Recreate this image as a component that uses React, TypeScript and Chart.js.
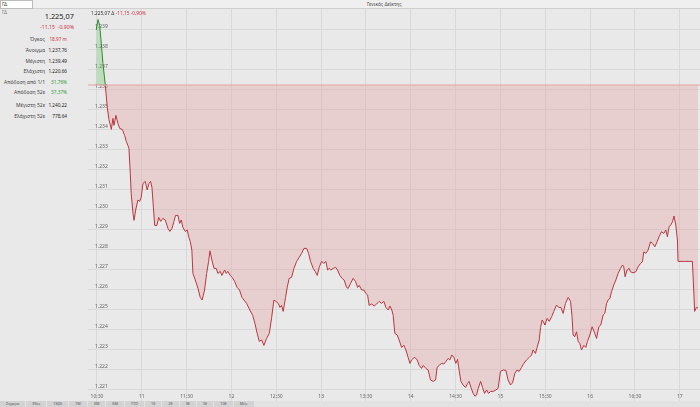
import React, { useEffect, useRef } from "react";
import { Chart, registerables } from "chart.js";

Chart.register(...registerables);

// Time in minutes since midnight, value of the index
const times: number[] = [
  629.5, 630.7, 631.8, 632.9, 634.0, 635.6, 636.9, 638.0, 639.6, 640.7, 641.4, 642.7, 644.0, 645.2, 646.9, 648.5,
  649.6, 650.7, 651.4, 652.3, 652.9, 654.1, 654.8, 655.9, 657.4, 658.6, 659.6, 660.8, 662.3, 663.6, 664.8, 665.9,
  666.8, 667.9, 668.6, 670.1, 671.3, 672.6, 674.1, 675.7, 677.5, 678.8, 680.2, 681.5, 682.6, 684.2, 685.3, 686.4,
  687.5, 689.1, 690.4, 691.5, 692.4, 693.5, 694.2, 695.8, 697.6, 699.1, 700.4, 702.0, 703.4, 704.7, 705.6, 706.9,
  708.3, 709.8, 710.9, 712.5, 713.6, 715.4, 716.5, 717.6, 719.2, 720.5, 722.1, 723.8, 725.4, 727.0, 730.1, 732.3,
  734.2, 735.7, 737.2, 738.6, 740.2, 741.7, 743.5, 745.3, 746.9, 748.4, 749.7, 751.3, 752.4, 753.5, 754.6, 756.2,
  757.3, 758.6, 760.2, 761.8, 763.6, 765.3, 766.9, 768.5, 770.3, 771.6, 772.9, 774.7, 776.0, 777.4, 778.7, 780.3,
  781.8, 783.2, 784.3, 785.4, 786.5, 788.1, 789.7, 791.0, 792.5, 794.1, 795.4, 797.0, 798.1, 799.7, 801.4, 803.0,
  804.4, 805.5, 807.1, 808.6, 809.9, 811.1, 812.1, 813.8, 815.5, 817.1, 818.8, 820.4, 822.0, 823.3, 824.9, 826.0,
  827.3, 828.2, 829.3, 830.9, 832.2, 833.8, 835.4, 836.7, 838.2, 839.4, 840.5, 841.6, 842.7, 844.3, 845.6, 847.2,
  848.3, 850.1, 851.6, 853.2, 855.0, 856.6, 857.6, 859.0, 860.6, 862.1, 863.5, 865.0, 866.1, 867.5, 868.8, 870.1,
  871.3, 872.3, 873.5, 875.0, 876.6, 878.0, 879.0, 880.2, 881.7, 882.9, 884.0, 885.1, 886.7, 888.0, 889.3, 890.7,
  892.0, 893.4, 895.1, 896.9, 898.4, 900.0, 901.8, 903.6, 905.1, 906.7, 908.1, 909.6, 911.1, 912.5, 914.1, 915.6,
  917.4, 919.2, 920.8, 921.8, 923.4, 924.5, 925.9, 926.8, 927.9, 929.2, 929.7, 931.2, 932.6, 934.2, 935.7, 937.5,
  939.0, 940.4, 941.9, 943.5, 945.3, 946.9, 947.9, 948.6, 949.7, 950.9, 952.0, 953.1, 954.2, 955.8, 957.1, 958.2,
  959.8, 961.3, 962.7, 964.3, 965.8, 967.1, 968.7, 969.8, 971.0, 972.0, 973.2, 974.3, 975.8, 977.2, 978.7, 980.3,
  981.7, 982.5, 983.4, 984.7, 986.1, 987.0, 988.7, 990.5, 992.1, 993.7, 995.0, 995.9, 997.2, 998.8, 1000.4, 1001.7,
  1003.3, 1004.8, 1006.1, 1007.7, 1009.3, 1010.6, 1011.7, 1012.8, 1013.9, 1015.1, 1016.1, 1017.3, 1018.4, 1018.8, 1023.3, 1028.4,
  1029.3, 1029.9, 1031.1, 1032.2,
];

const values: number[] = [
  1238.97, 1239.49, 1239.2, 1238.3, 1237.3, 1236.2, 1235.1, 1234.5, 1234.0, 1234.55, 1234.2, 1234.7, 1234.3, 1234.05, 1234.0, 1233.7,
  1233.4, 1233.2, 1233.05, 1231.8, 1230.8, 1229.8, 1229.45, 1229.97, 1230.47, 1230.4, 1230.6, 1231.3, 1231.4, 1230.97, 1231.3, 1231.4,
  1231.1, 1229.97, 1229.2, 1229.2, 1229.6, 1229.4, 1229.55, 1229.47, 1229.05, 1228.9, 1229.05, 1229.4, 1229.7, 1229.7, 1229.3, 1229.47,
  1229.1, 1228.9, 1228.97, 1228.6, 1228.4, 1227.97, 1226.8, 1226.47, 1226.05, 1225.6, 1225.47, 1225.97, 1226.8, 1227.4, 1227.93, 1227.47,
  1227.05, 1227.05, 1226.8, 1226.9, 1226.7, 1226.97, 1226.8, 1226.9, 1226.7, 1226.6, 1226.4, 1226.1, 1225.97, 1225.6, 1225.3, 1224.97,
  1224.7, 1224.3, 1223.8, 1223.4, 1223.47, 1223.2, 1223.55, 1223.8, 1224.6, 1225.47, 1225.4, 1225.3, 1225.1, 1225.2, 1224.9, 1225.6,
  1226.1, 1226.55, 1226.6, 1227.05, 1227.4, 1227.6, 1227.8, 1228.05, 1228.05, 1227.8, 1227.4, 1227.05, 1226.9, 1226.7, 1227.1, 1227.4,
  1227.3, 1227.4, 1226.97, 1227.05, 1226.97, 1227.05, 1227.1, 1226.97, 1226.7, 1226.55, 1226.47, 1226.1, 1226.05, 1226.3, 1226.55, 1226.4,
  1226.1, 1226.2, 1225.97, 1225.97, 1225.8, 1225.72, 1225.2, 1225.27, 1225.17, 1225.27, 1225.4, 1225.3, 1225.4, 1225.1, 1224.97, 1225.17,
  1224.97, 1224.7, 1223.8, 1223.72, 1223.47, 1223.1, 1223.2, 1222.97, 1222.6, 1222.3, 1222.47, 1222.55, 1222.6, 1222.47, 1222.2, 1222.05,
  1222.2, 1222.05, 1221.97, 1221.47, 1221.4, 1221.47, 1222.1, 1222.2, 1222.3, 1222.27, 1222.4, 1222.55, 1222.47, 1222.72, 1222.6, 1222.3,
  1222.5, 1221.97, 1221.4, 1221.22, 1221.1, 1221.3, 1221.4, 1221.1, 1220.8, 1220.66, 1220.72, 1221.05, 1221.4, 1221.1, 1220.8, 1220.97,
  1220.8, 1220.9, 1220.9, 1220.97, 1221.05, 1221.9, 1221.97, 1221.95, 1221.47, 1221.22, 1221.33, 1221.8, 1221.97, 1221.9, 1222.1, 1222.3,
  1222.47, 1222.6, 1222.72, 1222.97, 1222.8, 1223.1, 1223.47, 1224.1, 1224.47, 1224.3, 1224.22, 1224.55, 1224.4, 1224.63, 1224.9, 1225.22,
  1225.1, 1225.1, 1224.8, 1225.3, 1225.6, 1225.4, 1224.63, 1223.72, 1223.63, 1223.88, 1223.4, 1223.3, 1222.97, 1223.2, 1223.1, 1223.4,
  1223.72, 1224.13, 1223.88, 1223.55, 1224.13, 1224.22, 1224.72, 1224.8, 1225.3, 1225.47, 1225.55, 1225.88, 1226.22, 1226.47, 1226.8, 1227.05,
  1227.22, 1227.13, 1226.63, 1226.97, 1227.05, 1226.88, 1226.83, 1226.88, 1227.13, 1227.3, 1227.38, 1227.88, 1227.8, 1227.97, 1228.38, 1228.3,
  1228.13, 1228.38, 1228.63, 1228.88, 1228.8, 1228.97, 1228.63, 1229.13, 1229.22, 1229.38, 1229.67, 1229.22, 1228.47, 1227.4, 1227.4, 1227.4,
  1225.97, 1224.9, 1225.1, 1225.07,
];

const previousClose = 1236.22;
const xRange: number[] = [624, 1033.5];
const yRange: number[] = [1220.42, 1240.02];
const xTicks: number[] = [630, 660, 690, 720, 750, 780, 810, 840, 870, 900, 930, 960, 990, 1020];
const yTicks: number[] = [1221, 1222, 1223, 1224, 1225, 1226, 1227, 1228, 1229, 1230, 1231, 1232, 1233, 1234, 1235, 1236, 1237, 1238, 1239];

const statLabels: string[] = ["Όγκος", "Άνοιγμα", "Μέγιστη", "Ελάχιστη", "Απόδοση από 1/1", "Απόδοση 52ε", "Μέγιστη 52ε", "Ελάχιστη 52ε"];
const statValues: string[] = ["18,97 m", "1.237,76", "1.239,49", "1.220,66", "31,76%", "37,37%", "1.240,22", "778,64"];
const statColors: string[] = ["#d0324a", "#222", "#222", "#222", "#2e9a3a", "#2e9a3a", "#222", "#222"];
const statTops: number[] = [39, 50, 61, 71, 82, 92, 105, 116];

const tabLabels: string[] = ["Σήμερα", "Χθες", "1Εβδ", "1Μ", "3Μ", "6Μ", "YTD", "1Ε", "2Ε", "3Ε", "5Ε", "10Ε", "Μέγ."];

const FONT = "'Noto Sans', 'DejaVu Sans', sans-serif";
const GREEN = "#2f8a2f";
const RED = "#b8373f";

function fmtNum(v: number): string {
  const s = String(Math.round(v));
  return s.length > 3 ? s.slice(0, s.length - 3) + "." + s.slice(-3) : s;
}

function fmtTime(m: number): string {
  const h = Math.floor(m / 60);
  const mm = Math.round(m - h * 60);
  return mm === 0 ? String(h) : `${h}:${String(mm).padStart(2, "0")}`;
}

function flatten(s: any) {
  s.paddingLeft = 0;
  s.paddingRight = 0;
  s.paddingTop = 0;
  s.paddingBottom = 0;
  if (s.isHorizontal()) s.height = 0;
  else s.width = 0;
}

export default function App() {
  const ref = useRef<HTMLCanvasElement | null>(null);

  useEffect(() => {
    document.body.style.margin = "0";
    const canvas = ref.current;
    if (!canvas) return;
    const chart = new Chart(canvas, {
      type: "line",
      data: {
        datasets: [
          {
            label: "base",
            data: [
              { x: xRange[0], y: previousClose },
              { x: xRange[1], y: previousClose },
            ],
            borderColor: "#e2a3a3",
            borderWidth: 1,
            pointRadius: 0,
            fill: false,
          },
          {
            label: "index",
            data: times.map((t, i) => ({ x: t, y: values[i] })),
            borderWidth: 1,
            pointRadius: 0,
            tension: 0,
            borderColor: RED,
            segment: {
              borderColor: (ctx: any) =>
                (ctx.p0.parsed.y + ctx.p1.parsed.y) / 2 >= previousClose ? GREEN : RED,
            },
            fill: {
              value: previousClose,
              above: "rgba(110, 200, 110, 0.35)",
              below: "rgba(230, 160, 160, 0.35)",
            },
          },
        ],
      },
      options: {
        responsive: false,
        animation: false,
        maintainAspectRatio: false,
        layout: { padding: 0 },
        plugins: { legend: { display: false }, tooltip: { enabled: false } },
        scales: {
          x: {
            type: "linear",
            min: xRange[0],
            max: xRange[1],
            afterBuildTicks: (s: any) => {
              s.ticks = xTicks.map((v) => ({ value: v }));
            },
            afterFit: flatten,
            grid: { color: "#d9d9d9", drawTicks: false, lineWidth: 1 },
            border: { display: false },
            ticks: {
              mirror: true,
              padding: 1,
              maxRotation: 0,
              autoSkip: false,
              color: "#666",
              font: { family: FONT, size: 5 },
              callback: (v: any) => fmtTime(Number(v)),
            },
          },
          y: {
            type: "linear",
            min: yRange[0],
            max: yRange[1],
            afterBuildTicks: (s: any) => {
              s.ticks = yTicks.map((v) => ({ value: v }));
            },
            afterFit: flatten,
            grid: { color: "#d9d9d9", drawTicks: false, lineWidth: 1 },
            border: { display: false },
            ticks: {
              mirror: true,
              padding: 7,
              labelOffset: -3,
              color: "#666",
              font: { family: FONT, size: 5 },
              callback: (v: any) => fmtNum(Number(v)),
            },
          },
        },
      },
    });
    return () => chart.destroy();
  }, []);

  const small: React.CSSProperties = { position: "absolute", fontFamily: FONT, fontSize: 5, lineHeight: "6px", whiteSpace: "nowrap" };

  return (
    <div style={{ position: "fixed", left: 0, top: 0, width: 700, height: 407, background: "#e9e9e9", overflow: "hidden", fontFamily: FONT }}>
      {/* header bar */}
      <div style={{ position: "absolute", left: 0, top: 0, width: 700, height: 9, background: "#efefef", borderBottom: "1px solid #cfcfcf", boxSizing: "border-box" }} />
      <div style={{ position: "absolute", left: 0, top: 0, width: 33, height: 9, background: "#fff", border: "1px solid #bbb", boxSizing: "border-box" }} />
      <div style={{ ...small, left: 2, top: 1, color: "#333", fontSize: 4.8 }}>ΓΔ</div>
      <div style={{ ...small, left: 367, top: 1, color: "#444", fontSize: 4.8 }}>Γενικός Δείκτης</div>
      <div style={{ ...small, left: 2, top: 9, color: "#777", fontSize: 4.6 }}>ΓΔ</div>

      {/* left stats panel */}
      <div style={{ position: "absolute", left: 0, top: 12, width: 74, textAlign: "right", fontSize: 7.4, color: "#222", lineHeight: "9px" }}>1.225,07</div>
      <div style={{ ...small, left: 0, top: 24, width: 74, textAlign: "right", color: "#d0324a", fontSize: 5.2 }}>-11,15&nbsp;&nbsp;-0,90%</div>
      {statLabels.map((l, i) => (
        <React.Fragment key={l}>
          <div style={{ ...small, left: 0, width: 45, textAlign: "right", top: statTops[i] - 3, color: "#444" }}>{l}</div>
          <div style={{ ...small, left: 46, width: 21, textAlign: "right", top: statTops[i] - 3, color: statColors[i], fontSize: 4.7 }}>{statValues[i]}</div>
        </React.Fragment>
      ))}

      {/* chart */}
      <canvas ref={ref} width={612} height={392} style={{ position: "absolute", left: 88, top: 9, width: 612, height: 392 }} />
      <div style={{ ...small, left: 91, top: 10, color: "#333", fontSize: 4.8 }}>
        1.225,07 Δ <span style={{ color: "#d0324a" }}>-11,15 -0,90%</span>
      </div>

      {/* bottom tabs */}
      <div style={{ position: "absolute", left: 0, top: 401, width: 700, height: 6, background: "#e2e2e2" }} />
      <div style={{ position: "absolute", left: 0, top: 401, display: "flex", gap: 1 }}>
        {tabLabels.map((t) => (
          <div key={t} style={{ fontSize: 3.8, lineHeight: "6px", height: 6, padding: "0 6px", background: "#d3d3d3", color: "#555", whiteSpace: "nowrap" }}>{t}</div>
        ))}
      </div>
    </div>
  );
}
